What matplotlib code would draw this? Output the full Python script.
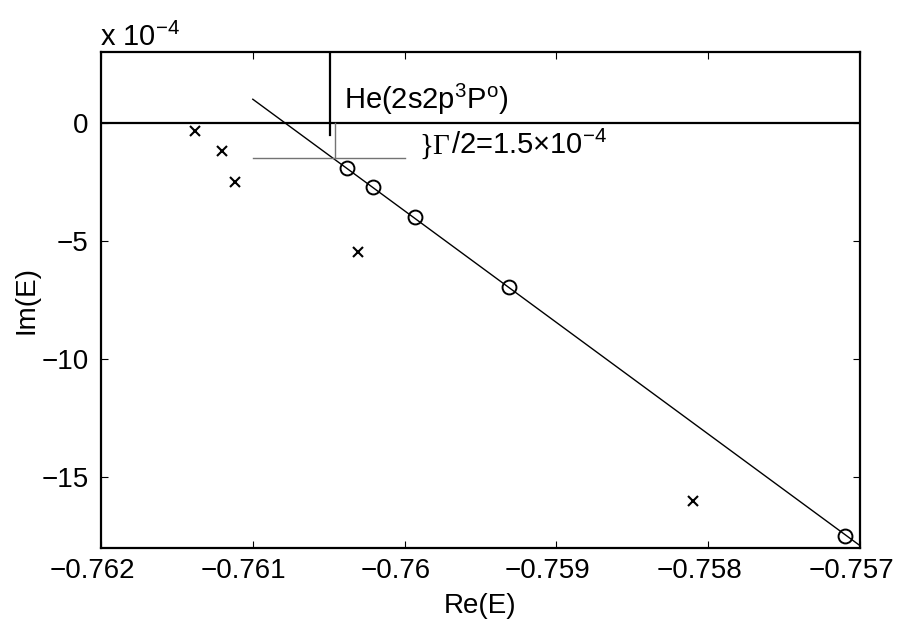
import numpy as np
import matplotlib
matplotlib.use("Agg")
import matplotlib.pyplot as plt
import matplotlib.transforms as mtransforms
from matplotlib.offsetbox import TextArea, HPacker, AnnotationBbox

plt.rcParams['font.family'] = ['Liberation Sans', 'DejaVu Sans']
plt.rcParams['mathtext.fontset'] = 'custom'
plt.rcParams['mathtext.rm'] = 'Liberation Sans'
plt.rcParams['mathtext.it'] = 'Liberation Sans'

# data (Im in units of 1e-4)
cross_re = [-0.76138, -0.76120, -0.76112, -0.76031, -0.75810]
cross_im = [-0.35, -1.2, -2.5, -5.45, -16.0]
circ_re = [-0.76038, -0.76021, -0.75993, -0.75931, -0.75710]
circ_im = [-1.9, -2.7, -4.0, -6.95, -17.5]
fit_re = [-0.7610, -0.7570]
fit_im = [1.0, -17.9]
res_re = -0.76049
half_width = 1.5

FS = 20
FS_NOTE = 21

fig = plt.figure(figsize=(8.99, 6.21), dpi=100)
ax = fig.add_axes([101 / 899, 73 / 621, 759 / 899, 496 / 621])

ax.plot(fit_re, fit_im, color='black', lw=1.0)
ax.plot(cross_re, cross_im, 'x', color='black', ms=7, mew=1.5)
ax.plot(circ_re, circ_im, 'o', mfc='none', mec='black', ms=10, mew=1.4)

ax.axhline(0, color='black', lw=1.6)
ax.plot([res_re, res_re], [3, -0.5], color='black', lw=1.6)
# width marker lines
ax.plot([res_re + 0.00003, res_re + 0.00003], [0, -half_width], color='0.45', lw=1.0)
ax.plot([-0.7610, -0.7600], [-half_width, -half_width], color='0.45', lw=1.0)

ax.text(-0.76040, 1.0, r'He(2s2p$^3$P$^{\rm o}$)', fontsize=FS_NOTE, va='center', ha='left')

# }Γ/2 label: brace and Gamma in serif like the original
part1 = TextArea('}\u0393', textprops=dict(fontsize=FS_NOTE, family='Liberation Serif'))
part2 = TextArea(r'/2=1.5$\times$10$^{-4}$', textprops=dict(fontsize=FS_NOTE))
box = HPacker(children=[part1, part2], pad=0, sep=0, align='baseline')
ab = AnnotationBbox(box, (-0.75990, -0.95), xycoords='data', box_alignment=(0, 0.5),
                    frameon=False, pad=0)
ax.add_artist(ab)

ax.set_xlim(-0.762, -0.757)
ax.set_ylim(-18, 3)
ax.set_xticks([-0.762, -0.761, -0.760, -0.759, -0.758, -0.757])
ax.set_xticklabels(['\u22120.762', '\u22120.761', '\u22120.76', '\u22120.759', '\u22120.758', '\u22120.757'])
ax.set_yticks([0, -5, -10, -15])
ax.set_yticklabels(['0', '\u22125', '\u221210', '\u221215'])
ax.tick_params(direction='in', top=True, right=True, length=5, width=0.8, labelsize=FS)
ax.tick_params(axis='x', pad=7)
ax.tick_params(axis='y', pad=9)
for s in ax.spines.values():
    s.set_linewidth(1.6)

# the original's tick labels sit a little left of their ticks
shift = mtransforms.ScaledTranslation(-9 / 100, 0, fig.dpi_scale_trans)
for lab in ax.get_xticklabels():
    lab.set_transform(lab.get_transform() + shift)

ax.set_xlabel('Re(E)', fontsize=FS, labelpad=7)
ax.set_ylabel('Im(E)', fontsize=FS, labelpad=1)
fig.text(100 / 899, 1 - 37 / 621, r'x 10$^{-4}$', fontsize=FS_NOTE, va='center', ha='left')

fig.savefig('out.png', dpi=100)
